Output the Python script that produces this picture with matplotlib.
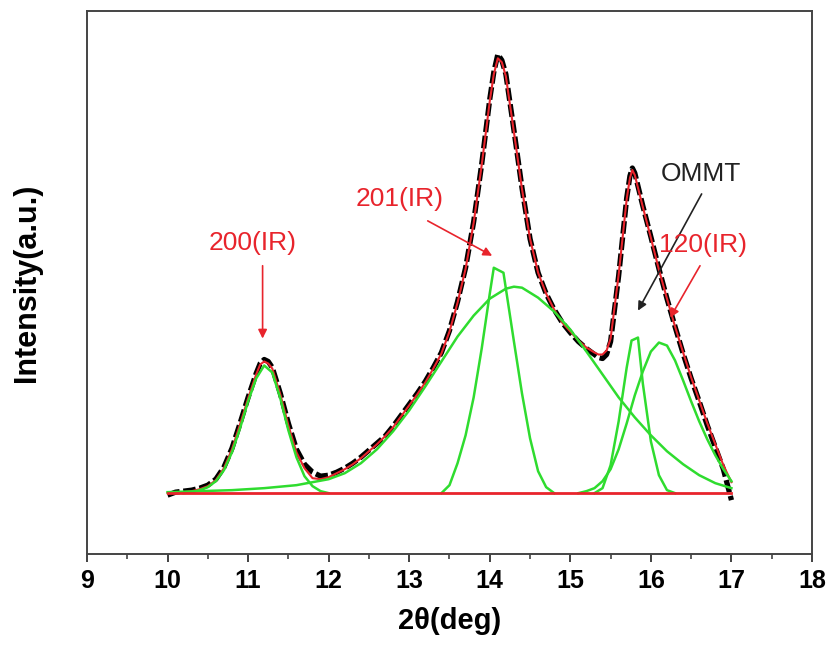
import matplotlib
matplotlib.use("Agg")
import matplotlib.pyplot as plt

plt.rcParams["font.family"] = ["Liberation Sans", "DejaVu Sans"]

# Measured XRD pattern (2theta in degrees, intensity in a.u., background removed)
two_theta = [10.0, 10.1, 10.2, 10.3, 10.4, 10.5, 10.6, 10.7, 10.8, 10.9,
             11.0, 11.1, 11.15, 11.2, 11.25, 11.3, 11.4, 11.5, 11.6, 11.7,
             11.8, 11.9, 12.0, 12.1, 12.2, 12.3, 12.4, 12.5, 12.6, 12.7,
             12.8, 12.9, 13.0, 13.1, 13.2, 13.3, 13.4, 13.5, 13.6, 13.7,
             13.8, 13.9, 14.0, 14.05, 14.1, 14.15, 14.2, 14.3, 14.4, 14.5,
             14.6, 14.7, 14.8, 14.9, 15.0, 15.1, 15.2, 15.3, 15.35, 15.4,
             15.45, 15.5, 15.6, 15.7, 15.74, 15.77, 15.8, 15.9, 16.0, 16.1,
             16.2, 16.3, 16.4, 16.5, 16.6, 16.7, 16.8, 16.9, 17.0]
intensity = [-2, 1, 2, 3, 5, 8, 14, 26, 45, 70,
             96, 120, 130, 134, 132, 126, 100, 70, 44, 29,
             21, 17, 18, 21, 25, 30, 36, 43, 50, 57,
             67, 78, 89, 100, 112, 126, 141, 163, 192, 226,
             272, 330, 395, 422, 440, 434, 420, 364, 306, 255,
             221, 200, 184, 171, 161, 152, 145, 139, 136, 135,
             139, 152, 218, 296, 318, 326, 321, 288, 257, 225,
             195, 167, 140, 115, 92, 68, 46, 24, -7]

# Cumulative peak fit
fit_total = [0, 1, 1, 2, 4, 7, 13, 25, 44, 69,
             95, 119, 129, 132, 130, 125, 99, 68, 41, 25,
             15, 14, 16, 20, 24, 29, 35, 42, 49, 57,
             66, 77, 88, 99, 111, 125, 140, 162, 191, 225,
             271, 329, 393, 420, 436, 432, 418, 362, 305, 255,
             221, 200, 184, 171, 162, 153, 146, 141, 139, 139,
             143, 155, 219, 295, 316, 324, 319, 287, 256, 224,
             195, 167, 141, 116, 93, 70, 49, 28, 11]

# Fitted components
peak200_x = [10.2, 10.3, 10.4, 10.5, 10.6, 10.7, 10.8, 10.9, 11.0, 11.1,
             11.2, 11.3, 11.4, 11.5, 11.6, 11.7, 11.8, 11.9, 12.0]
peak200_y = [0, 1, 3, 6, 12, 23, 41, 65, 92, 115,
             128, 121, 95, 63, 36, 17, 7, 2, 0]

broad_x = [10.0, 10.4, 10.8, 11.2, 11.6, 11.8, 12.0, 12.2, 12.4, 12.6,
           12.8, 13.0, 13.2, 13.4, 13.6, 13.8, 14.0, 14.2, 14.3, 14.4,
           14.6, 14.8, 15.0, 15.2, 15.4, 15.6, 15.8, 16.0, 16.2, 16.4,
           16.6, 16.8, 17.0]
broad_y = [1, 2, 3, 5, 8, 11, 14, 20, 30, 44,
           62, 83, 107, 132, 157, 178, 195, 205, 207, 206,
           196, 182, 164, 142, 119, 96, 76, 58, 42, 29,
           18, 10, 5]

peak201_x = [13.4, 13.5, 13.6, 13.7, 13.8, 13.9, 14.0, 14.05, 14.17, 14.3,
             14.4, 14.5, 14.6, 14.7, 14.8]
peak201_y = [0, 8, 30, 58, 96, 145, 200, 226, 221, 152,
             100, 55, 22, 6, 0]

ommt_x = [15.3, 15.4, 15.5, 15.6, 15.7, 15.76, 15.84, 15.9, 16.0, 16.1,
          16.2, 16.3]
ommt_y = [0, 5, 28, 72, 126, 153, 156, 110, 52, 18,
          3, 0]

peak120_x = [15.1, 15.2, 15.3, 15.4, 15.5, 15.6, 15.7, 15.8, 15.9, 16.0,
             16.1, 16.2, 16.3, 16.4, 16.5, 16.6, 16.7, 16.8, 16.9, 17.0]
peak120_y = [0, 2, 5, 12, 24, 44, 70, 98, 122, 142,
             151, 148, 133, 113, 92, 72, 54, 38, 24, 12]

baseline_x = [10.0, 17.0]
baseline_y = [0, 0]

RED = "#e8242c"
GREEN = "#2fdc2f"

fig = plt.figure(figsize=(8.30, 6.49), dpi=100)
ax = fig.add_axes([0.1048, 0.1464, 0.8735, 0.8360])

ax.plot(two_theta, intensity, color="black", lw=3.8, dashes=(2.4, 0.7),
        solid_joinstyle="round", zorder=1)
ax.plot(two_theta, fit_total, color=RED, lw=1.5, zorder=2)
for cx, cy in [(peak200_x, peak200_y), (broad_x, broad_y), (peak201_x, peak201_y),
               (ommt_x, ommt_y), (peak120_x, peak120_y)]:
    ax.plot(cx, cy, color=GREEN, lw=1.8, zorder=3)
ax.plot(baseline_x, baseline_y, color=RED, lw=2.0, zorder=4)

ax.set_xlim(9, 18)
ax.set_ylim(-61, 483)
ax.set_xticks(range(9, 19))
ax.set_xticks([9.5 + i for i in range(9)], minor=True)
ax.set_yticks([])
ax.tick_params(axis="x", which="major", direction="out", length=6, width=1.3,
               colors="#333333", labelcolor="black", labelsize=18, pad=5)
ax.tick_params(axis="x", which="minor", direction="out", length=3.5, width=1.1,
               colors="#333333")
for lab in ax.get_xticklabels():
    lab.set_fontweight("bold")
for sp in ax.spines.values():
    sp.set_color("#444444")
    sp.set_linewidth(1.4)

ax.set_xlabel("2θ(deg)", fontsize=21, fontweight="bold", labelpad=10)
ax.set_ylabel("Intensity(a.u.)", fontsize=22, fontweight="bold")
ax.yaxis.set_label_coords(-0.062, 0.50)

arrow_red = dict(arrowstyle="-|>", color=RED, lw=1.2, mutation_scale=13,
                 shrinkA=0, shrinkB=0)
arrow_black = dict(arrowstyle="-|>", color="#222222", lw=1.2, mutation_scale=13,
                   shrinkA=0, shrinkB=0)

ax.text(11.06, 251, "200(IR)", color=RED, fontsize=19, ha="center", va="center")
ax.annotate("", xy=(11.18, 155), xytext=(11.18, 228), arrowprops=arrow_red)

ax.text(12.88, 295, "201(IR)", color=RED, fontsize=19, ha="center", va="center")
ax.annotate("", xy=(14.03, 238), xytext=(13.23, 273), arrowprops=arrow_red)

ax.text(16.62, 320, "OMMT", color="#222222", fontsize=19, ha="center", va="center")
ax.annotate("", xy=(15.84, 183), xytext=(16.63, 300), arrowprops=arrow_black)

ax.text(16.65, 249, "120(IR)", color=RED, fontsize=19, ha="center", va="center")
ax.annotate("", xy=(16.24, 176), xytext=(16.61, 228), arrowprops=arrow_red)

fig.savefig("out.png", dpi=100)
